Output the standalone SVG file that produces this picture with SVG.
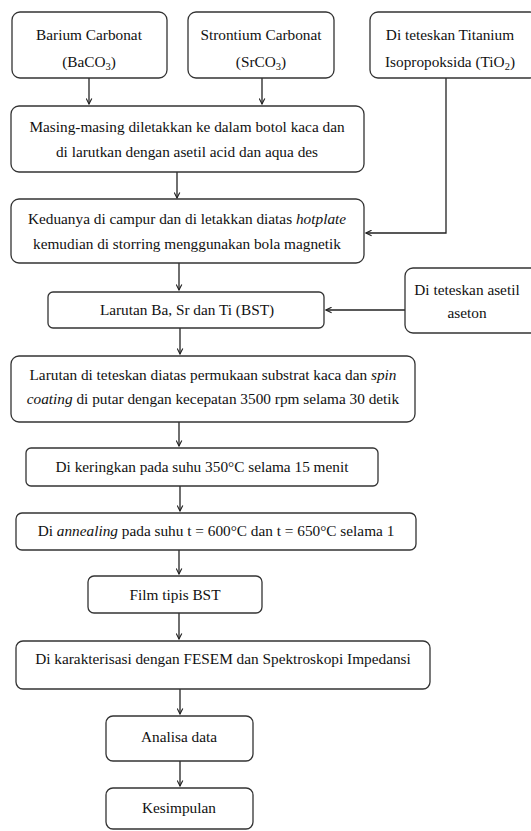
<svg xmlns="http://www.w3.org/2000/svg" width="531" height="831" viewBox="0 0 531 831">
<style>
.b{fill:#fff;stroke:#333;stroke-width:1.3}
.t{font-family:'Liberation Serif','Times New Roman','DejaVu Serif',serif;font-size:15.3px;fill:#111;text-anchor:middle}
.c{fill:none;stroke:#222;stroke-width:1.3}
</style>
<defs>
<marker id="a" viewBox="0 0 10 10" refX="9" refY="5" markerWidth="7" markerHeight="7" orient="auto" markerUnits="userSpaceOnUse">
<path d="M1,1 L9,5 L1,9" fill="none" stroke="#222" stroke-width="1.6"/>
</marker>
</defs>
<rect width="531" height="831" fill="#fff"/>
<g id="connectors">
<line class="c" x1="89" y1="78" x2="89" y2="104" marker-end="url(#a)"/>
<line class="c" x1="262" y1="78" x2="262" y2="104" marker-end="url(#a)"/>
<polyline class="c" points="446,78 446,233 366,233" marker-end="url(#a)"/>
<line class="c" x1="177" y1="172" x2="177" y2="198" marker-end="url(#a)"/>
<line class="c" x1="179" y1="263" x2="179" y2="290" marker-end="url(#a)"/>
<line class="c" x1="405" y1="310" x2="326" y2="310" marker-end="url(#a)"/>
<line class="c" x1="180" y1="328" x2="180" y2="354" marker-end="url(#a)"/>
<line class="c" x1="179" y1="422" x2="179" y2="446" marker-end="url(#a)"/>
<line class="c" x1="180" y1="486" x2="180" y2="511" marker-end="url(#a)"/>
<line class="c" x1="179" y1="550" x2="179" y2="574" marker-end="url(#a)"/>
<line class="c" x1="179" y1="613" x2="179" y2="639" marker-end="url(#a)"/>
<line class="c" x1="180" y1="689" x2="180" y2="714" marker-end="url(#a)"/>
<line class="c" x1="180" y1="761" x2="180" y2="786" marker-end="url(#a)"/>
</g>
<g id="barium">
<rect class="b" x="12" y="12" width="155" height="66" rx="8"/>
<text class="t" x="89" y="40">Barium Carbonat</text>
<text class="t" x="89" y="67">(BaCO<tspan font-size="10.5" dy="3">3</tspan><tspan dy="-3">)</tspan></text>
</g>
<g id="strontium">
<rect class="b" x="188" y="12" width="146" height="66" rx="8"/>
<text class="t" x="261" y="40">Strontium Carbonat</text>
<text class="t" x="261" y="67">(SrCO<tspan font-size="10.5" dy="3">3</tspan><tspan dy="-3">)</tspan></text>
</g>
<g id="titanium">
<rect class="b" x="370" y="12" width="168" height="66" rx="8"/>
<text class="t" x="450" y="40">Di teteskan Titanium</text>
<text class="t" x="450" y="67">Isopropoksida (TiO<tspan font-size="10.5" dy="3">2</tspan><tspan dy="-3">)</tspan></text>
</g>
<g id="masing">
<rect class="b" x="11" y="106" width="353" height="66" rx="8"/>
<text class="t" x="187" y="132">Masing-masing diletakkan ke dalam botol kaca dan</text>
<text class="t" x="187" y="157">di larutkan dengan asetil acid dan aqua des</text>
</g>
<g id="keduanya">
<rect class="b" x="11" y="199" width="353" height="64" rx="8"/>
<text class="t" x="187" y="224">Keduanya di campur dan di letakkan diatas <tspan font-style="italic">hotplate</tspan></text>
<text class="t" x="187" y="249">kemudian di storring menggunakan bola magnetik</text>
</g>
<g id="larutan-bst">
<rect class="b" x="48" y="292" width="276" height="36" rx="5"/>
<text class="t" x="187" y="315">Larutan Ba, Sr dan Ti (BST)</text>
</g>
<g id="aseton">
<rect class="b" x="405" y="268" width="135" height="65" rx="8"/>
<text class="t" x="467" y="295">Di teteskan asetil</text>
<text class="t" x="467" y="318">aseton</text>
</g>
<g id="spin">
<rect class="b" x="11" y="356" width="404" height="66" rx="8"/>
<text class="t" x="213" y="380">Larutan di teteskan diatas permukaan substrat kaca dan <tspan font-style="italic">spin</tspan></text>
<text class="t" x="213" y="404"><tspan font-style="italic">coating</tspan> di putar dengan kecepatan 3500 rpm selama 30 detik</text>
</g>
<g id="keringkan">
<rect class="b" x="26" y="448" width="352" height="38" rx="5"/>
<text class="t" x="202" y="472">Di keringkan pada suhu 350°C selama 15 menit</text>
</g>
<g id="annealing">
<rect class="b" x="16" y="513" width="400" height="37" rx="6"/>
<text class="t" x="216" y="536">Di <tspan font-style="italic">annealing</tspan> pada suhu t = 600°C dan t = 650°C selama 1</text>
</g>
<g id="film">
<rect class="b" x="88" y="576" width="174" height="37" rx="6"/>
<text class="t" x="175" y="600">Film tipis BST</text>
</g>
<g id="karakterisasi">
<rect class="b" x="16" y="641" width="414" height="48" rx="7"/>
<text class="t" x="223" y="664">Di karakterisasi dengan FESEM dan Spektroskopi Impedansi</text>
</g>
<g id="analisa">
<rect class="b" x="106" y="716" width="147" height="45" rx="7"/>
<text class="t" x="179" y="742">Analisa data</text>
</g>
<g id="kesimpulan">
<rect class="b" x="106" y="788" width="147" height="41" rx="7"/>
<text class="t" x="179" y="813">Kesimpulan</text>
</g>
</svg>
